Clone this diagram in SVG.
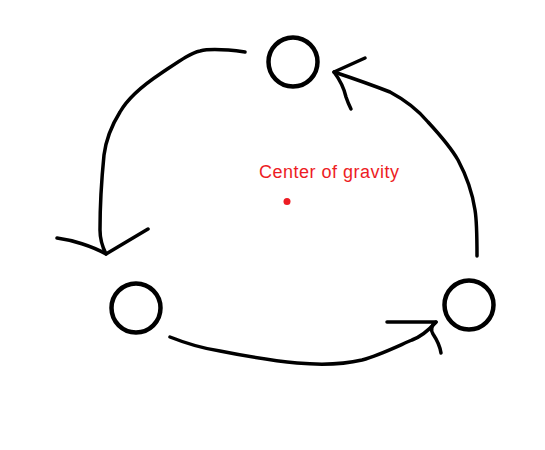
<svg xmlns="http://www.w3.org/2000/svg" width="545" height="450" viewBox="0 0 545 450">
<style>
.node{fill:none;stroke:#000;stroke-width:4.5}
.ink{fill:none;stroke:#000;stroke-width:3.5;stroke-linecap:round;stroke-linejoin:round}
.lbl{font-family:"Liberation Sans",Arial,sans-serif;font-size:18px;fill:#ED1C24}
</style>
<rect width="545" height="450" fill="#fff"/>
<g id="node-top"><circle class="node" cx="293" cy="62" r="24.5"/></g>
<g id="node-left"><circle class="node" cx="136" cy="308" r="24.5"/></g>
<g id="node-right"><circle class="node" cx="469" cy="305" r="24.5"/></g>
<g id="center">
<circle cx="287" cy="201.5" r="3.5" fill="#ED1C24"/>
<text class="lbl" x="259" y="178" textLength="140">Center of gravity</text>
</g>
<g id="connectors">
<path class="ink" d="M245 52 C230 50 212 48 200 51 C190 53 178 62 160 74 C145 84 128 98 120 112 C110 128 106 140 104 155 C102 175 100 205 100 230 C100 240 103 248 106 254"/>
<path class="ink" d="M57 238 C72 240 92 246 106 254 L148 229"/>
<path class="ink" d="M477 256 C477 240 477 222 475 210 C472 190 466 175 458 160 C450 146 440 135 428 122 C418 110 405 100 390 92 C372 85 352 78 334 72"/>
<path class="ink" d="M365 58 L334 72 C340 80 344 88 346 97 C348 103 350 107 351 109"/>
<path class="ink" d="M170 337 C185 343 200 348 220 351 C240 355 265 360 297 363 C320 365 345 364 362 360 C380 355 398 346 412 340 C420 337 428 331 436 322"/>
<path class="ink" d="M387 322 L436 322 C432 325 430 329 433 334 C437 340 440 346 441 353"/>
</g>
</svg>
